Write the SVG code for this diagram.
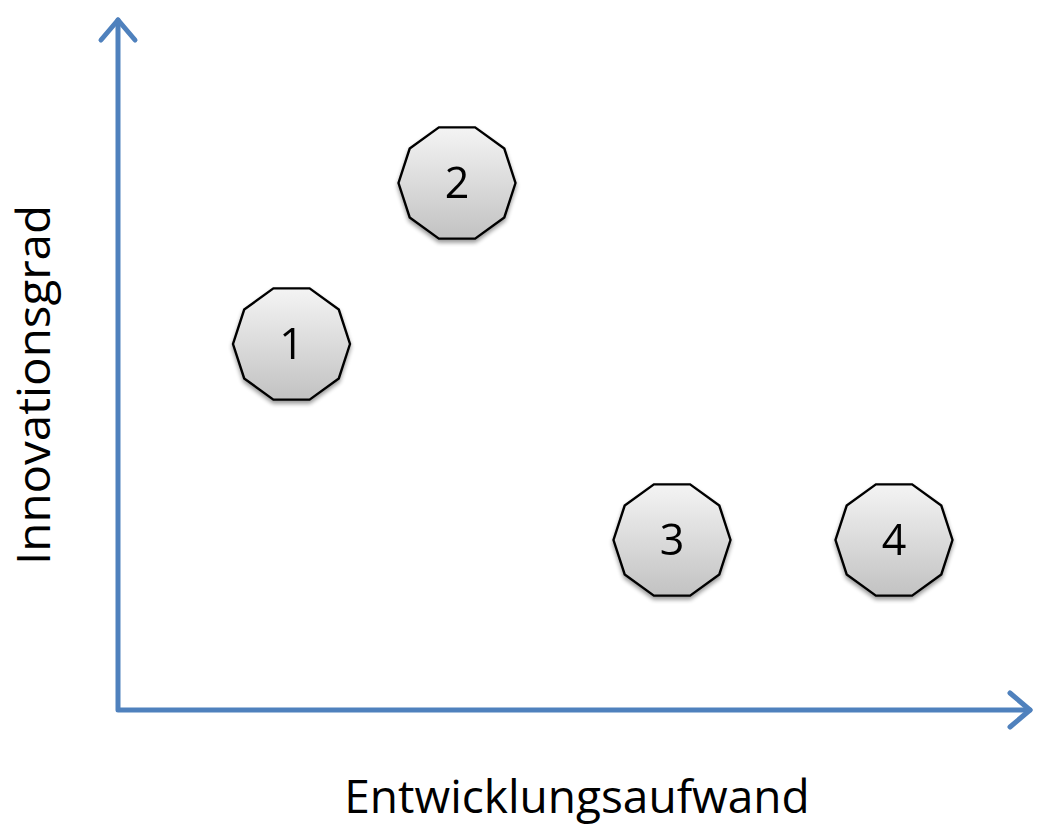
<svg xmlns="http://www.w3.org/2000/svg" xmlns:xlink="http://www.w3.org/1999/xlink" width="1040" height="825" viewBox="0 0 1040 825">
<style>
.axis{fill:none;stroke:#4F81BD;stroke-width:5;stroke-linecap:round;stroke-linejoin:round}
.num{font-family:"Open Sans","Liberation Sans",sans-serif;font-size:43px;fill:#000;text-anchor:middle}
.lbl{font-family:"Open Sans","Liberation Sans",sans-serif;font-size:46px;fill:#000;text-anchor:middle}
</style>
<defs>
<linearGradient id="g" x1="0" y1="0" x2="0" y2="1">
<stop offset="0" stop-color="#f4f4f4"/>
<stop offset="1" stop-color="#c2c2c2"/>
</linearGradient>
<filter id="sh" x="-20%" y="-20%" width="140%" height="150%">
<feGaussianBlur in="SourceAlpha" stdDeviation="2"/>
<feOffset dx="0" dy="3" result="b"/>
<feComponentTransfer><feFuncA type="linear" slope="0.4"/></feComponentTransfer>
<feMerge><feMergeNode/><feMergeNode in="SourceGraphic"/></feMerge>
</filter>
<polygon id="dec" points="58.5,0 47.3,34.4 18.1,55.6 -18.1,55.6 -47.3,34.4 -58.5,0 -47.3,-34.4 -18.1,-55.6 18.1,-55.6 47.3,-34.4" fill="url(#g)" stroke="#000" stroke-width="2.4"/>
</defs>
<rect width="1040" height="825" fill="#fff"/>
<g id="connectors">
<path class="axis" d="M118,20 L118,710 L1030,710"/>
<path class="axis" d="M101,40 L118,20 L135,40"/>
<path class="axis" d="M1010,693 L1030,710 L1010,727"/>
</g>
<g id="node1" filter="url(#sh)"><use xlink:href="#dec" transform="translate(291.5,344)"/><text class="num" x="291.5" y="359">1</text></g>
<g id="node2" filter="url(#sh)"><use xlink:href="#dec" transform="translate(457,183)"/><text class="num" x="457" y="198">2</text></g>
<g id="node3" filter="url(#sh)"><use xlink:href="#dec" transform="translate(672,540)"/><text class="num" x="672" y="555">3</text></g>
<g id="node4" filter="url(#sh)"><use xlink:href="#dec" transform="translate(894,540)"/><text class="num" x="894" y="555">4</text></g>
<g id="labels">
<text class="lbl" x="577" y="813">Entwicklungsaufwand</text>
<text class="lbl" transform="translate(50,385) rotate(-90)" textLength="360" lengthAdjust="spacingAndGlyphs">Innovationsgrad</text>
</g>
</svg>
